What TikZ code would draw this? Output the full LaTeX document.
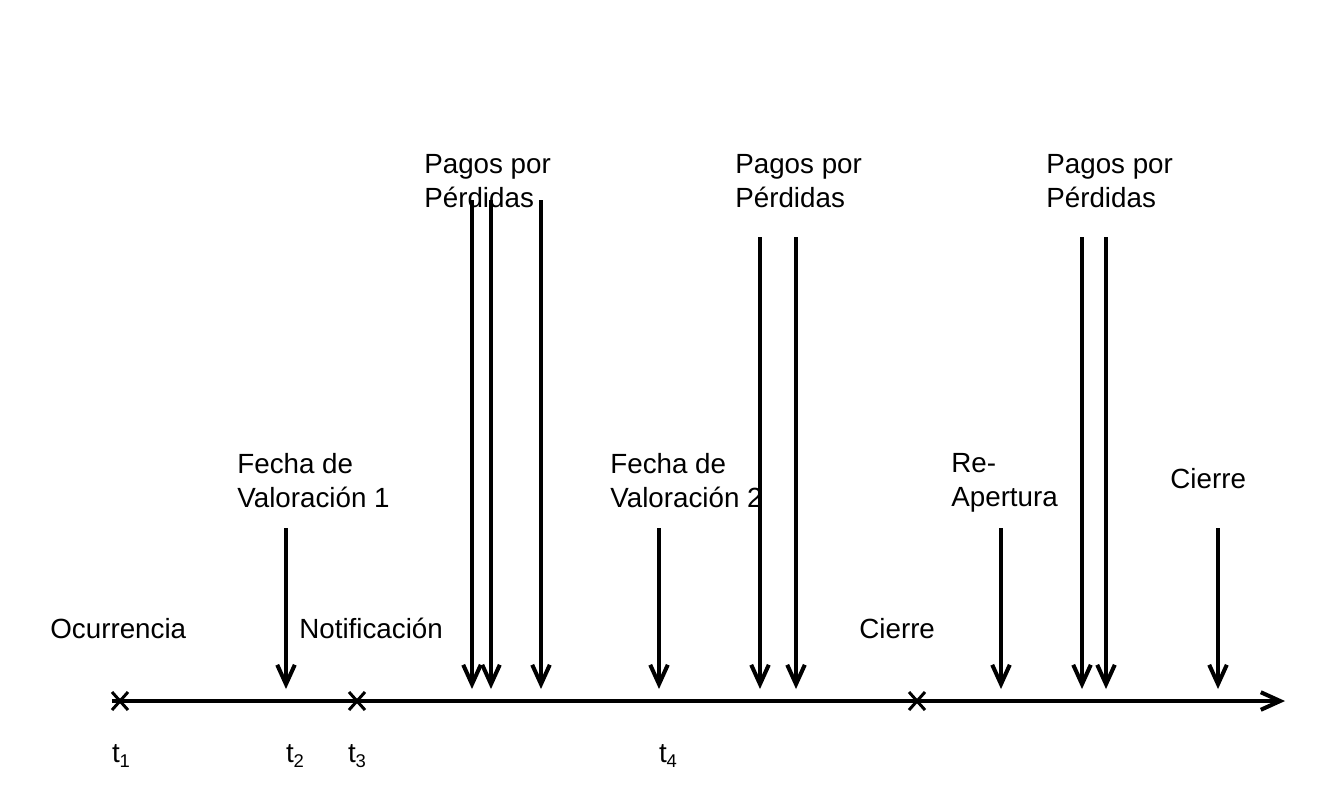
\documentclass[tikz,border=0pt]{standalone}
\usepackage{fontspec}
\setmainfont{Liberation Sans}
\usetikzlibrary{positioning,arrows.meta,calc}

\newcommand{\tsub}[1]{t\raisebox{-0.35ex}{\fontsize{10.5pt}{12pt}\selectfont #1}}

\tikzset{
  lbl/.style={anchor=base west, inner sep=0pt, align=left,
    font=\fontsize{15.8pt}{19.3pt}\selectfont},
  tlbl/.style={anchor=base, inner sep=0pt,
    font=\fontsize{15.8pt}{19.3pt}\selectfont},
  evento/.style={line width=2.3pt, -{Straight Barb[length=11pt,width=10pt,line width=2.3pt]}},
  cruz/.style={line width=1.7pt}
}

\begin{document}
\begin{tikzpicture}[x=0.02cm, y=-0.02cm]
  \useasboundingbox (0,0) rectangle (1344,806);

  % time axis
  \coordinate (ini) at (112,701);
  \coordinate (fin) at (1285,701);
  \draw [evento] (ini) -- (fin);

  % crosses on the axis
  \coordinate (x1) at (120,701);
  \coordinate (x3) at (357,701);
  \coordinate (xc) at (917,701);
  \foreach \p in {x1,x3,xc} {
    \draw [cruz] ($(\p)+(-8,-9)$) -- ($(\p)+(8,9)$);
    \draw [cruz] ($(\p)+(-8,9)$) -- ($(\p)+(8,-9)$);
  }

  % labels under the axis
  \node [tlbl] (t1) at (121,762) { \tsub{1} };
  \node [tlbl] (t2) at (295,762) { \tsub{2} };
  \node [tlbl] (t3) at (357,762) { \tsub{3} };
  \node [tlbl] (t4) at (668,762) { \tsub{4} };

  % labels above the axis
  \node [lbl] (ocu) at (50,638) { Ocurrencia };
  \node [lbl] (noti) at (299,638) { Notificación };
  \node [lbl] (cie1) at (859,638) { Cierre };
  \node [lbl] (val1) at (237,507) { Fecha de\\Valoración 1 };
  \node [lbl] (val2) at (610,507) { Fecha de\\Valoración 2 };
  \node [lbl] (reap) at (951,506) { Re-\\Apertura };
  \node [lbl] (cie2) at (1170,488) { Cierre };
  \node [lbl] (pag1) at (424,207) { Pagos por\\Pérdidas };
  \node [lbl] (pag2) at (735,207) { Pagos por\\Pérdidas };
  \node [lbl] (pag3) at (1046,207) { Pagos por\\Pérdidas };

  % event arrows
  \foreach \xx/\yy in {286/528, 472/200, 491/200, 541/200, 659/528,
                       760/237, 796/237, 1001/528, 1082/237, 1106/237, 1218/528} {
    \coordinate (a\xx) at (\xx,\yy);
    \coordinate (b\xx) at (\xx,689);
    \draw [evento] (a\xx) -- (b\xx);
  }
\end{tikzpicture}
\end{document}
